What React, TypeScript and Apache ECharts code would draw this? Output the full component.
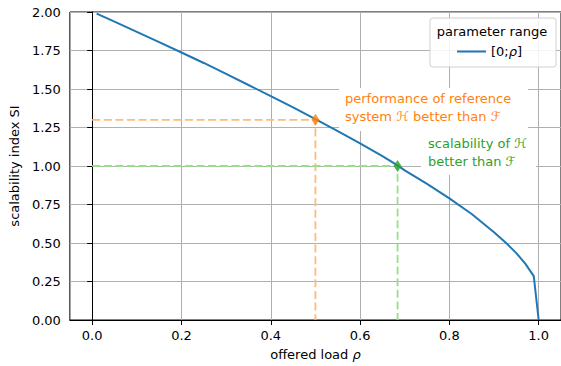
import React, { useEffect, useRef } from "react";
import * as echarts from "echarts";

// offered load values and scalability index
const rho = [0.01, 0.05, 0.1, 0.15, 0.2, 0.25, 0.3, 0.35, 0.4, 0.45, 0.5, 0.55, 0.6, 0.65, 0.684, 0.7, 0.75, 0.8, 0.85, 0.9, 0.929, 0.95, 0.97, 0.989, 1.0];
const si = [1.99, 1.937, 1.871, 1.804, 1.737, 1.669, 1.598, 1.526, 1.454, 1.38, 1.304, 1.227, 1.147, 1.064, 1.004, 0.972, 0.884, 0.79, 0.688, 0.57, 0.495, 0.434, 0.366, 0.285, 0.0];

const perfPoint = [0.5, 1.3];
const scalPoint = [0.684, 1.0];

const xTicks = [0, 0.2, 0.4, 0.6, 0.8, 1.0];
const xRange = [-0.05, 1.05];
const yRange = [0, 2];
const yStep = 0.25;

const legendName = "[0;ρ]";

const FONT = "DejaVu Sans";

export default function App() {
  const ref = useRef<HTMLDivElement>(null);
  useEffect(() => {
    if (!ref.current) return;
    const chart = echarts.init(ref.current, null, { renderer: "svg" });
    const curve = rho.map((r, i) => [r, si[i]]);
    const perfGuide = [[0, perfPoint[1]], [perfPoint[0], perfPoint[1]], [perfPoint[0], 0]];
    const scalGuide = [[0, scalPoint[1]], [scalPoint[0], scalPoint[1]], [scalPoint[0], 0]];
    chart.setOption({
      animation: false,
      textStyle: { fontFamily: FONT },
      grid: {
        left: 68,
        right: -1,
        top: 12,
        bottom: 46,
        show: true,
        borderColor: "#000",
        borderWidth: 1,
        backgroundColor: "transparent",
      },
      xAxis: {
        type: "value",
        min: xRange[0],
        max: xRange[1],
        name: "offered load {i|ρ}",
        nameLocation: "middle",
        nameGap: 28,
        nameTextStyle: {
          fontFamily: FONT,
          fontSize: 13,
          color: "#000",
          rich: { i: { fontFamily: FONT, fontStyle: "italic", fontSize: 13, color: "#000" } },
        },
        axisLine: { show: true, onZero: false, lineStyle: { color: "#000", width: 1 } },
        axisTick: { show: true, length: 5, customValues: xTicks, lineStyle: { color: "#000" } },
        axisLabel: {
          customValues: xTicks,
          formatter: (v: number) => v.toFixed(1),
          fontSize: 13,
          color: "#000",
          margin: 9,
          fontFamily: FONT,
        },
        splitLine: { show: true, lineStyle: { color: "#b0b0b0", width: 1 } },
      },
      yAxis: {
        type: "value",
        min: yRange[0],
        max: yRange[1],
        interval: yStep,
        name: "scalability index SI",
        nameLocation: "middle",
        nameGap: 45,
        nameTextStyle: { fontFamily: FONT, fontSize: 13, color: "#000" },
        axisLine: { show: true, lineStyle: { color: "#000", width: 1 } },
        axisTick: { show: true, length: 5, lineStyle: { color: "#000" } },
        axisLabel: {
          formatter: (v: number) => v.toFixed(2),
          fontSize: 13,
          color: "#000",
          margin: 9,
          fontFamily: FONT,
        },
        splitLine: { show: true, lineStyle: { color: "#b0b0b0", width: 1 } },
      },
      legend: {
        data: [{ name: legendName, icon: "path://M0,0 L29,0 L29,2 L0,2 Z" }],
        left: 430,
        top: 18,
        orient: "vertical",
        padding: [27, 34, 9, 27],
        itemWidth: 29,
        itemHeight: 14,
        backgroundColor: "rgba(255,255,255,0.85)",
        borderColor: "#d0d0d0",
        borderWidth: 1,
        borderRadius: 3,
        textStyle: {
          fontFamily: FONT,
          fontSize: 13,
          color: "#000",
          rich: { i: { fontFamily: FONT, fontStyle: "italic", fontSize: 13, color: "#000" } },
        },
        formatter: () => "[0;{i|ρ}]",
        selectedMode: false,
      },
      series: [
        {
          type: "line",
          name: "perf-guide",
          data: perfGuide,
          symbol: "none",
          lineStyle: { color: "#ffbb78", width: 1.8, type: [8, 3.6] },
          z: 2,
          silent: true,
        },
        {
          type: "line",
          name: "scal-guide",
          data: scalGuide,
          symbol: "none",
          lineStyle: { color: "#98df8a", width: 1.8, type: [8, 3.6] },
          z: 2,
          silent: true,
        },
        {
          type: "line",
          name: legendName,
          data: curve,
          symbol: "none",
          lineStyle: { color: "#1f77b4", width: 2 },
          itemStyle: { color: "#1f77b4" },
          z: 3,
        },
        {
          type: "scatter",
          name: "perf-point",
          data: [perfPoint],
          symbol: "diamond",
          symbolSize: [8, 12],
          itemStyle: { color: "#ff7f0e" },
          z: 4,
        },
        {
          type: "scatter",
          name: "scal-point",
          data: [scalPoint],
          symbol: "diamond",
          symbolSize: [8, 12],
          itemStyle: { color: "#2ca02c" },
          z: 4,
        },
      ],
      graphic: [
        {
          type: "text",
          z: 100,
          x: 492,
          y: 31,
          style: {
            text: "parameter range",
            font: `13px "${FONT}"`,
            fill: "#000",
            align: "center",
            verticalAlign: "middle",
          },
        },
        {
          type: "rect",
          z: 90,
          shape: { x: 339, y: 88, width: 189, height: 43 },
          style: { fill: "#fff" },
        },
        {
          type: "text",
          z: 100,
          x: 345,
          y: 89,
          style: {
            text: "performance of reference\nsystem {i|ℋ} better than {i|ℱ}",
            font: `13px "${FONT}"`,
            fill: "#ff7f0e",
            lineHeight: 18,
            rich: { i: { fontStyle: "italic", fontFamily: FONT, fontSize: 13, fill: "#ff7f0e", lineHeight: 18 } },
          },
        },
        {
          type: "rect",
          z: 90,
          shape: { x: 421, y: 131, width: 115, height: 44 },
          style: { fill: "#fff" },
        },
        {
          type: "text",
          z: 100,
          x: 428,
          y: 134,
          style: {
            text: "scalability of {i|ℋ}\nbetter than {i|ℱ}",
            font: `13px "${FONT}"`,
            fill: "#2ca02c",
            lineHeight: 18,
            rich: { i: { fontStyle: "italic", fontFamily: FONT, fontSize: 13, fill: "#2ca02c", lineHeight: 18 } },
          },
        },
      ],
    });
    return () => chart.dispose();
  }, []);
  return <div ref={ref} style={{ width: 561, height: 366, position: "absolute", left: 0, top: 0 }} />;
}
